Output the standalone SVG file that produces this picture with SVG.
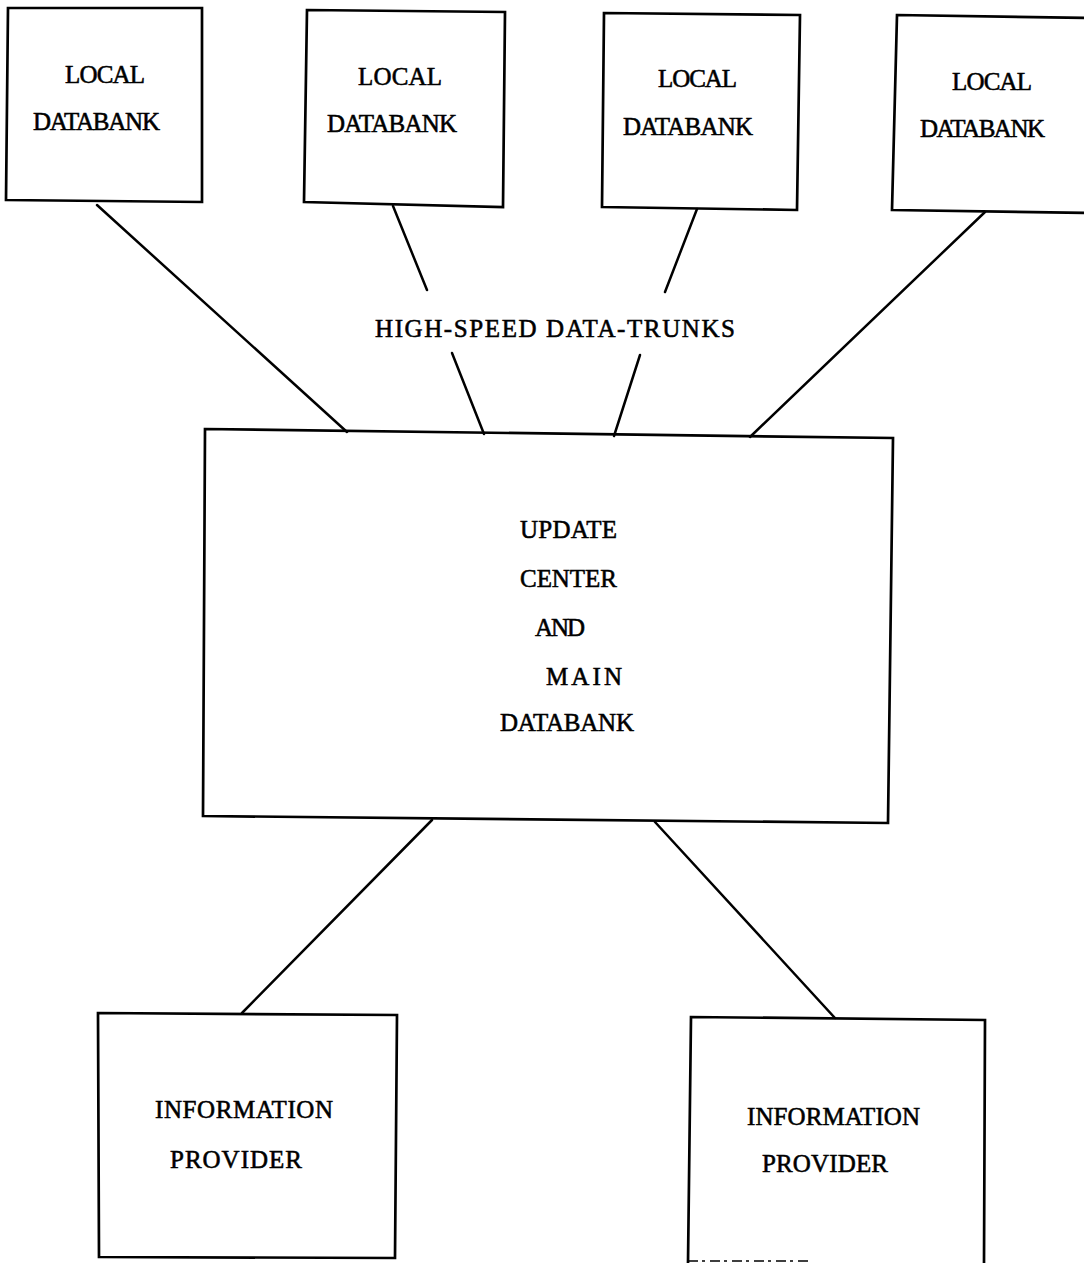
<svg xmlns="http://www.w3.org/2000/svg" width="1084" height="1263" viewBox="0 0 1084 1263">
  <style>
    .box { fill: none; stroke: #000; stroke-width: 2.7; stroke-linejoin: miter; }
    .link { fill: none; stroke: #000; stroke-width: 2.5; stroke-linecap: round; }
    .lbl { font-family: "Liberation Serif", "Times New Roman", serif; font-size: 25px; fill: #000; stroke: #000; stroke-width: 0.55; }
  </style>
  <rect width="1084" height="1263" fill="#fff"/>

  <!-- connectors: high-speed data trunks and provider links -->
  <g id="connectors">
    <line class="link" x1="97" y1="205" x2="347" y2="432"/>
    <line class="link" x1="393" y1="206" x2="427" y2="290"/>
    <line class="link" x1="452" y1="353" x2="484" y2="434"/>
    <line class="link" x1="697" y1="209" x2="665" y2="292"/>
    <line class="link" x1="640" y1="355" x2="614" y2="436"/>
    <line class="link" x1="985" y1="212" x2="750" y2="437"/>
    <line class="link" x1="432" y1="820" x2="242" y2="1013"/>
    <line class="link" x1="655" y1="822" x2="835" y2="1018"/>
  </g>

  <text id="trunk-label" class="lbl" x="375" y="337" textLength="360" lengthAdjust="spacing">HIGH-SPEED DATA-TRUNKS</text>

  <g id="local-databank-1">
    <polygon class="box" points="8,8 202,8 202,202 6,200"/>
    <text class="lbl" x="65" y="83" textLength="80" lengthAdjust="spacing">LOCAL</text>
    <text class="lbl" x="33" y="130" textLength="127" lengthAdjust="spacing">DATABANK</text>
  </g>

  <g id="local-databank-2">
    <polygon class="box" points="307,10 505,12 503,207 304,202"/>
    <text class="lbl" x="358" y="85" textLength="84" lengthAdjust="spacing">LOCAL</text>
    <text class="lbl" x="327" y="132" textLength="130" lengthAdjust="spacing">DATABANK</text>
  </g>

  <g id="local-databank-3">
    <polygon class="box" points="604,13 800,15 797,210 602,207"/>
    <text class="lbl" x="658" y="87" textLength="79" lengthAdjust="spacing">LOCAL</text>
    <text class="lbl" x="623" y="135" textLength="130" lengthAdjust="spacing">DATABANK</text>
  </g>

  <g id="local-databank-4">
    <polygon class="box" points="897,15 1090,18 1090,213 892,210"/>
    <text class="lbl" x="952" y="90" textLength="80" lengthAdjust="spacing">LOCAL</text>
    <text class="lbl" x="920" y="137" textLength="125" lengthAdjust="spacing">DATABANK</text>
  </g>

  <g id="update-center">
    <polygon class="box" points="205,429 893,438 888,823 203,816"/>
    <text class="lbl" x="520" y="538" textLength="97" lengthAdjust="spacing">UPDATE</text>
    <text class="lbl" x="520" y="587" textLength="97" lengthAdjust="spacing">CENTER</text>
    <text class="lbl" x="535" y="636" textLength="50" lengthAdjust="spacing">AND</text>
    <text class="lbl" x="546" y="685" textLength="76" lengthAdjust="spacing">MAIN</text>
    <text class="lbl" x="500" y="731" textLength="134" lengthAdjust="spacing">DATABANK</text>
  </g>

  <g id="information-provider-1">
    <polygon class="box" points="98,1013 397,1015 395,1258 99,1257"/>
    <text class="lbl" x="155" y="1118" textLength="178" lengthAdjust="spacing">INFORMATION</text>
    <text class="lbl" x="170" y="1168" textLength="132" lengthAdjust="spacing">PROVIDER</text>
  </g>

  <g id="information-provider-2">
    <polyline class="box" points="688,1263 691,1017 985,1020 984,1263"/>
    <line x1="688" y1="1261" x2="810" y2="1261" stroke="#000" stroke-width="1.6" stroke-dasharray="10 4 3 5"/>
    <text class="lbl" x="747" y="1125" textLength="173" lengthAdjust="spacing">INFORMATION</text>
    <text class="lbl" x="762" y="1172" textLength="126" lengthAdjust="spacing">PROVIDER</text>
  </g>
</svg>
